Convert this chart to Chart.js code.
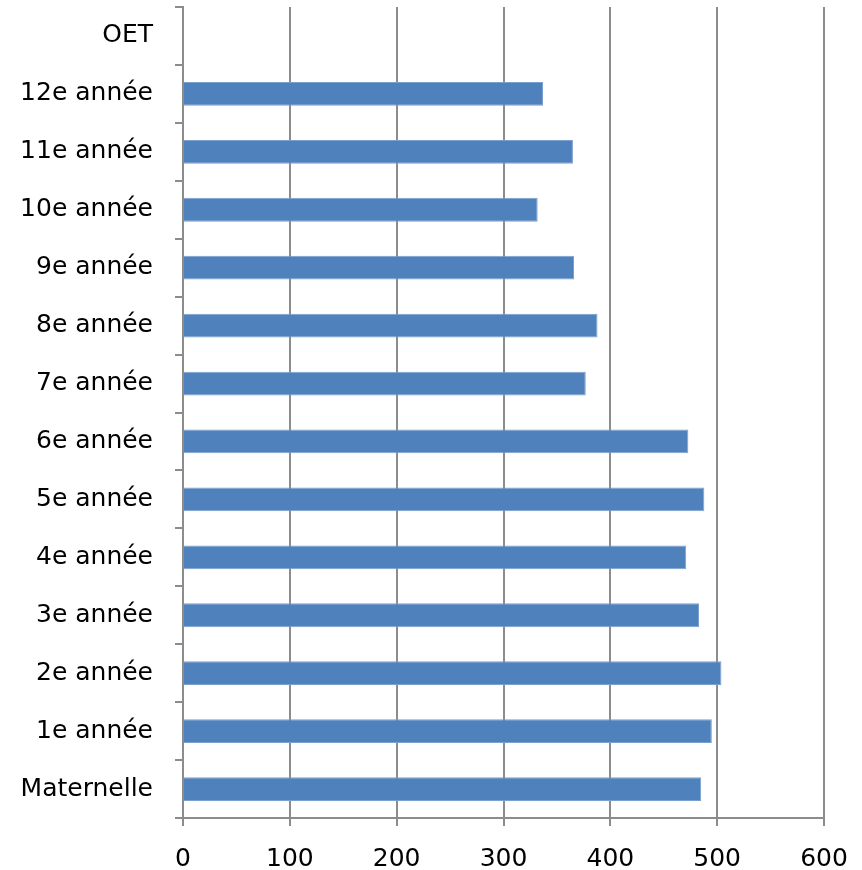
<!DOCTYPE html>
<html>
<head>
<meta charset="utf-8">
<script src="https://cdn.jsdelivr.net/npm/chart.js@4"></script>
<style>
html,body{margin:0;padding:0;background:#fff;}
#wrap{width:862px;height:870px;}
</style>
</head>
<body>
<div id="wrap"><canvas id="c" width="862" height="870"></canvas></div>
<script>
const categories = ["Maternelle","1e année","2e année","3e année","4e année","5e année","6e année","7e année","8e année","9e année","10e année","11e année","12e année","OET"];
const values = [485,495,504,483,471,488,473,377,388,366,332,365,337,null];
const xTicks = [0,100,200,300,400,500,600];

const gridColor = '#8c8c8c';
const fontFamily = "'DejaVu Sans', Verdana, sans-serif";

new Chart(document.getElementById('c'), {
  type: 'bar',
  data: {
    labels: categories,
    datasets: [{
      data: values,
      backgroundColor: '#4F81BD',
      borderColor: '#7aa0d0',
      borderWidth: 1,
      borderSkipped: 'start',
      barPercentage: 0.41,
      categoryPercentage: 1.0
    }]
  },
  options: {
    indexAxis: 'y',
    responsive: false,
    devicePixelRatio: 1,
    animation: false,
    layout: { padding: { top: 7, right: 38, bottom: 0, left: 0 } },
    plugins: { legend: { display: false }, tooltip: { enabled: false } },
    scales: {
      x: {
        min: 0, max: 600,
        afterBuildTicks: (s) => { s.ticks = xTicks.map(v => ({ value: v })); },
        afterFit: (s) => { s.height = 52; s.paddingLeft = 0; s.paddingRight = 0; },
        grid: { color: gridColor, lineWidth: 2, tickLength: 8, drawTicks: true },
        border: { color: gridColor, width: 2 },
        ticks: { color: '#000', font: { family: fontFamily, size: 25 }, padding: 18 }
      },
      y: {
        reverse: true,
        afterFit: (s) => { s.width = 183; s.paddingTop = 0; s.paddingBottom = 0; },
        grid: { display: true, drawOnChartArea: false, offset: true, color: gridColor, lineWidth: 2, tickLength: 8 },
        border: { color: gridColor, width: 2 },
        ticks: { color: '#000', font: { family: fontFamily, size: 25 }, padding: 22 }
      }
    }
  }
});
</script>
</body>
</html>
